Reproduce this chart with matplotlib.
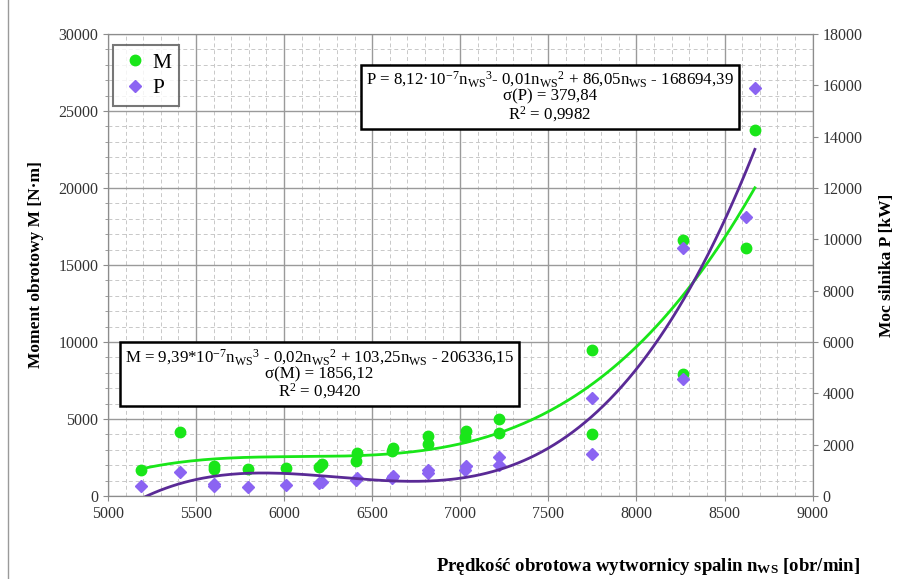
import numpy as np
import matplotlib.pyplot as plt
from matplotlib.ticker import MultipleLocator
from matplotlib.patches import Rectangle

plt.rcParams['font.family'] = ['Liberation Serif', 'DejaVu Serif']
plt.rcParams['mathtext.fontset'] = 'custom'
plt.rcParams['mathtext.rm'] = 'Liberation Serif'
plt.rcParams['mathtext.it'] = 'Liberation Serif:italic'
plt.rcParams['mathtext.bf'] = 'Liberation Serif:bold'

# predkosc obrotowa wytwornicy spalin [obr/min]
n_ws = [5190, 5410, 5600, 5600, 5795, 6010, 6200, 6215, 6410, 6413, 6610, 6617,
        6816, 6816, 7026, 7030, 7219, 7219, 7747, 7747, 8265, 8265, 8619, 8672]
# moment obrotowy M [N*m]
moment = [1700, 4150, 1750, 1950, 1750, 1800, 1850, 2050, 2250, 2800, 2950, 3100,
          3350, 3900, 3800, 4200, 4100, 5000, 4050, 9450, 7950, 16600, 16100, 23750]
# moc silnika P [kW]
moc = [380, 950, 380, 480, 360, 430, 500, 560, 620, 700, 700, 780,
       880, 1010, 1000, 1150, 1200, 1500, 1650, 3800, 4550, 9650, 10850, 15900]

eq_P = ('P = 8,12·10$^{-7}$n$_{\\mathrm{WS}}$$^{3}$- 0,01n$_{\\mathrm{WS}}$$^{2}$'
        ' + 86,05n$_{\\mathrm{WS}}$ - 168694,39\n'
        'σ(P) = 379,84\nR$^{2}$ = 0,9982')
eq_M = ('M = 9,39*10$^{-7}$n$_{\\mathrm{WS}}$$^{3}$ - 0,02n$_{\\mathrm{WS}}$$^{2}$'
        ' + 103,25n$_{\\mathrm{WS}}$ - 206336,15\n'
        'σ(M) = 1856,12\nR$^{2}$ = 0,9420')

GREEN = '#19e619'
LAVENDER = '#8b64f2'
PURPLE = '#5a2a96'

fig = plt.figure(figsize=(9.07, 5.79), dpi=100)
ax = fig.add_axes([0.119, 0.1434, 0.777, 0.798])
ax2 = ax.twinx()

# linie trendu (wielomian 3 stopnia, jak w arkuszu)
x = np.asarray(n_ws, dtype=float)
xs = np.linspace(x.min(), x.max(), 200)
fit_M = np.polyval(np.polyfit(x, moment, 3), xs)
fit_P = np.polyval(np.polyfit(x, moc, 3), xs)

ax.plot(n_ws, moment, 'o', color=GREEN, ms=7.5, mec=GREEN, zorder=3, label='M')
ax.plot(xs, fit_M, color=GREEN, lw=2, zorder=3)
ax2.plot(n_ws, moc, 'D', color=LAVENDER, ms=6, mec=LAVENDER, zorder=3, label='P')
ax2.plot(xs, fit_P, color=PURPLE, lw=2, zorder=3)

ax.set_xlim(5000, 9000)
ax.set_ylim(0, 30000)
ax2.set_ylim(0, 18000)
ax.xaxis.set_major_locator(MultipleLocator(500))
ax.xaxis.set_minor_locator(MultipleLocator(100))
ax.yaxis.set_major_locator(MultipleLocator(5000))
ax.yaxis.set_minor_locator(MultipleLocator(1000))
ax2.yaxis.set_major_locator(MultipleLocator(2000))

ax.grid(which='major', color='#9a9a9a', lw=1.0)
ax.grid(which='minor', color='#c8c8c8', lw=0.7, ls=(0, (4, 3)))
ax.set_axisbelow(True)

for a in (ax, ax2):
    for s in a.spines.values():
        s.set_color('#8c8c8c')
    a.tick_params(which='both', colors='#8c8c8c', labelcolor='#333333', labelsize=11.5)
ax.tick_params(which='minor', length=2)
ax.tick_params(axis='x', which='minor', length=0)

ax.set_ylabel('Moment obrotowy M [N·m]', fontsize=12.5, fontweight='bold', labelpad=10)
ax2.set_ylabel('Moc silnika P [kW]', fontsize=12.5, fontweight='bold', labelpad=12)
fig.text(0.715, 0.014, 'Prędkość obrotowa wytwornicy spalin n$_{\\mathbf{WS}}$ [obr/min]',
         fontsize=13.5, fontweight='bold', ha='center')

h1, l1 = ax.get_legend_handles_labels()
h2, l2 = ax2.get_legend_handles_labels()
leg = ax2.legend(h1 + h2, l1 + l2, loc='upper left', bbox_to_anchor=(0.007, 0.976),
                 borderaxespad=0, fontsize=15.5, frameon=True, fancybox=False,
                 handletextpad=0.1, handlelength=1.4, borderpad=0.35, labelspacing=0.25)
leg.get_frame().set_edgecolor('#555555')
leg.get_frame().set_linewidth(1.5)

box = dict(boxstyle='square,pad=0.3', fc='white', ec='black', lw=1.8)
ax2.text(0.627, 0.864, eq_P, transform=ax2.transAxes, ha='center', va='center',
         fontsize=12.2, linespacing=0.95, bbox=box, zorder=5)
ax2.text(0.30, 0.264, eq_M, transform=ax2.transAxes, ha='center', va='center',
         fontsize=12.2, linespacing=0.95, bbox=box, zorder=5)

fig.patches.append(Rectangle((0.009, -0.1), 1.2, 1.2, transform=fig.transFigure,
                             fill=False, ec='#9a9a9a', lw=1))

fig.savefig('out.png', dpi=100)
